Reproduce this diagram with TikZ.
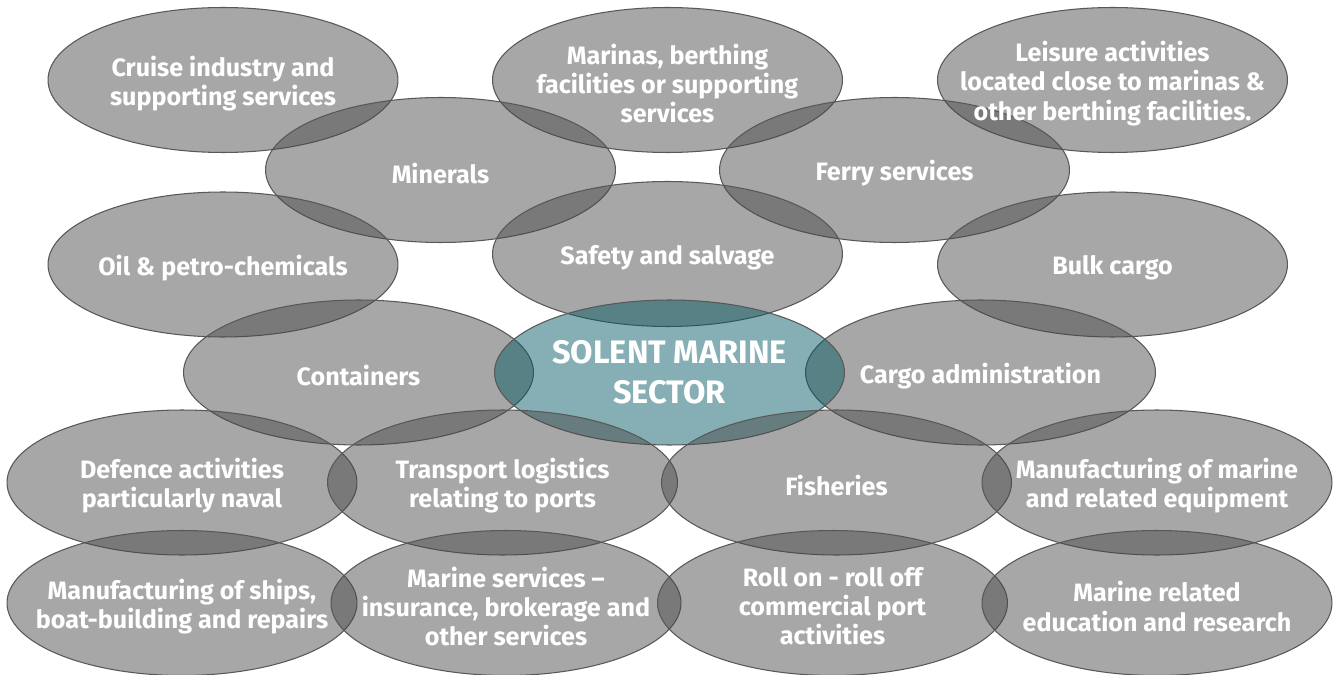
\documentclass[tikz,border=0pt]{standalone}
\usepackage{fontspec}
\setmainfont{Fira Sans}
\usetikzlibrary{shapes.geometric}

\definecolor{sectorgrey}{RGB}{71,71,71}
\definecolor{sectorteal}{RGB}{0,88,98}
\definecolor{rimgrey}{RGB}{88,88,88}

\begin{document}
\begin{tikzpicture}[
    x=0.02cm, y=-0.02cm,
    sector/.style={ellipse, draw=rimgrey, line width=0.6pt, fill=sectorgrey, fill opacity=0.48, minimum width=7cm, minimum height=2.9cm, inner sep=0pt},
    hub/.style={sector, fill=sectorteal},
    caption/.style={text=white, font=\fontsize{14.3}{16.6}\selectfont\bfseries, align=center, yshift=-0.07cm},
    hubtext/.style={text=white, font=\fontsize{18.5}{22.5}\selectfont\bfseries, align=center}
]
\useasboundingbox (0,0) rectangle (1338,675);

% Ellipses
\node [sector] (cruise) at (223,80) {};
\node [sector] (marinas) at (667.5,80) {};
\node [sector] (leisure) at (1112.5,80) {};
\node [sector] (minerals) at (440.5,170) {};
\node [sector] (ferry) at (894.5,170) {};
\node [sector] (oil) at (223,264.5) {};
\node [sector] (safety) at (667.5,254) {};
\node [sector] (bulk) at (1112.5,264.5) {};
\node [sector] (containers) at (358.5,372.5) {};
\node [sector] (cargo) at (980.5,372.5) {};
\node [hub] (solent) at (669.5,372.5) {};
\node [sector] (defence) at (182,482.5) {};
\node [sector] (logistics) at (502.5,482.5) {};
\node [sector] (fisheries) at (836.5,482.5) {};
\node [sector] (equipment) at (1157,482.5) {};
\node [sector] (shipbuilding) at (182,603) {};
\node [sector] (services) at (506,603) {};
\node [sector] (roro) at (832.5,603) {};
\node [sector] (education) at (1157,603) {};

% Texts
\node [caption] (cruise-t) at (cruise) {Cruise industry and\\supporting services};
\node [caption] (marinas-t) at (marinas) {Marinas, berthing\\facilities or supporting\\services};
\node [caption] (leisure-t) at (leisure) {Leisure activities\\located close to marinas \&\\other berthing facilities.};
\node [caption] (minerals-t) at (minerals) {Minerals};
\node [caption] (ferry-t) at (ferry) {Ferry services};
\node [caption] (oil-t) at (oil) {Oil \& petro-chemicals};
\node [caption] (safety-t) at (safety) {Safety and salvage};
\node [caption] (bulk-t) at (bulk) {Bulk cargo};
\node [caption] (containers-t) at (containers) {Containers};
\node [caption] (cargo-t) at (cargo) {Cargo administration};
\node [hubtext] (solent-t) at (solent) {SOLENT MARINE\\SECTOR};
\node [caption] (defence-t) at (defence) {Defence activities\\particularly naval};
\node [caption] (logistics-t) at (logistics) {Transport logistics\\relating to ports};
\node [caption] (fisheries-t) at (fisheries) {Fisheries};
\node [caption] (equipment-t) at (equipment) {Manufacturing of marine\\and related equipment};
\node [caption] (shipbuilding-t) at (shipbuilding) {Manufacturing of ships,\\boat-building and repairs};
\node [caption] (services-t) at (services) {Marine services –\\insurance, brokerage and\\other services};
\node [caption] (roro-t) at (roro) {Roll on - roll off\\commercial port\\activities};
\node [caption] (education-t) at (education) {Marine related\\education and research};

\end{tikzpicture}
\end{document}
